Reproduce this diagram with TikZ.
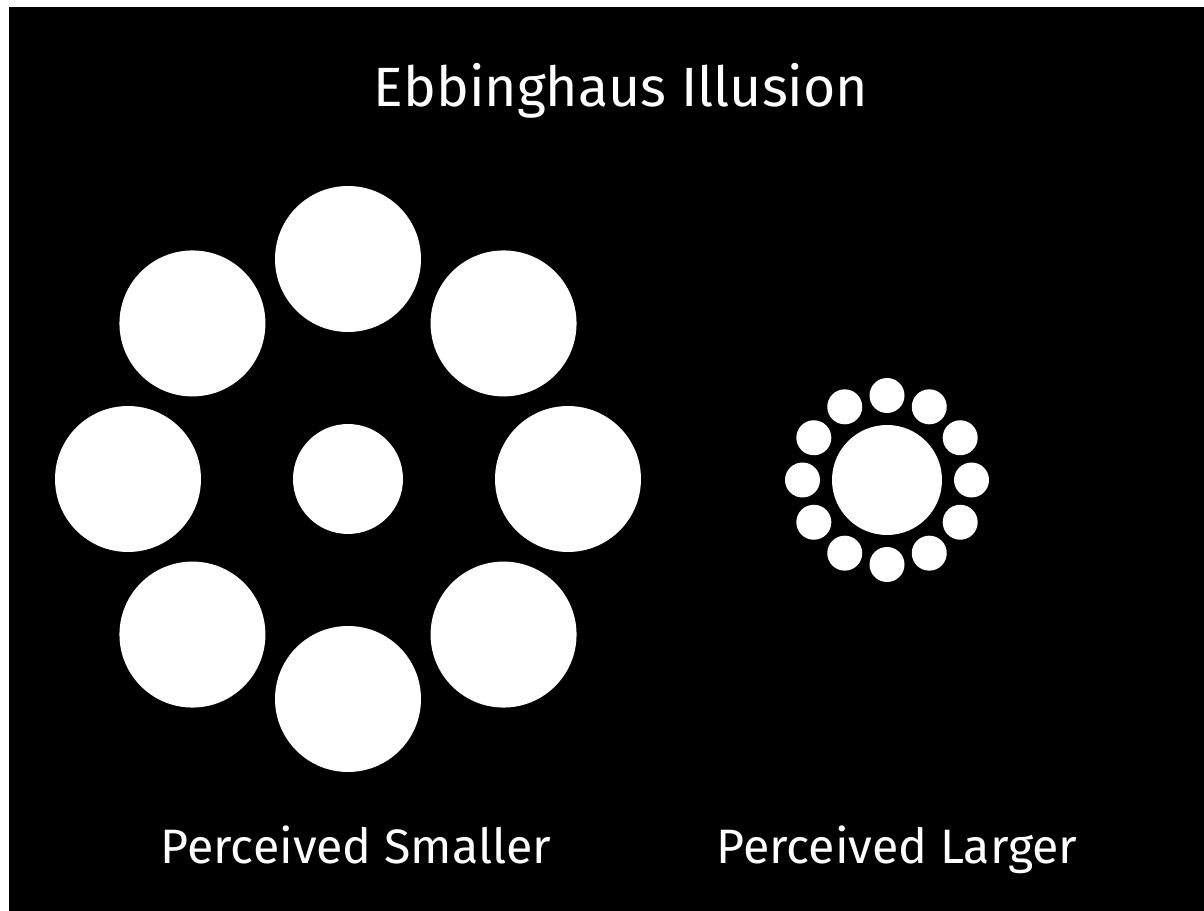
\documentclass[tikz,border=0pt]{standalone}
\usepackage{fontspec}
\setmainfont{Fira Sans}
\usetikzlibrary{positioning,calc}

\begin{document}
\begin{tikzpicture}[x=0.02cm, y=-0.02cm,
  every node/.style={text=white, anchor=base, inner sep=0pt},
  caption/.style={font=\fontsize{27.5}{32}\selectfont},
  disc/.style={circle, fill=white, inner sep=0pt, minimum size=#1, anchor=center}]

  % ---- Page and black board ----
  \fill[white] (0,0) rectangle (1204,911);
  \fill[black] (9,7) rectangle (1204,911);
  \useasboundingbox (0,0) rectangle (1204,911);

  % ---- Title ----
  \node[font=\fontsize{31.5}{36}\selectfont] (title) at (621, 107) {Ebbinghaus Illusion};

  % ---- Left: small centre among large rings ----
  \node[disc=2.2cm] (lc) at (348, 479) {};
  \foreach \i in {0,...,7}
    \node[disc=2.92cm] (lo\i) at ($(lc)+(\i*45:220)$) {};

  % ---- Right: same centre among small rings ----
  \node[disc=2.2cm] (rc) at (887, 480) {};
  \foreach \i in {0,...,11}
    \node[disc=0.7cm] (ro\i) at ($(rc)+(\i*30:84.5)$) {};

  % ---- Captions ----
  \node[caption] (lcap) at (356, 864) {Perceived Smaller};
  \node[caption] (rcap) at (897, 864) {Perceived Larger};
\end{tikzpicture}
\end{document}
